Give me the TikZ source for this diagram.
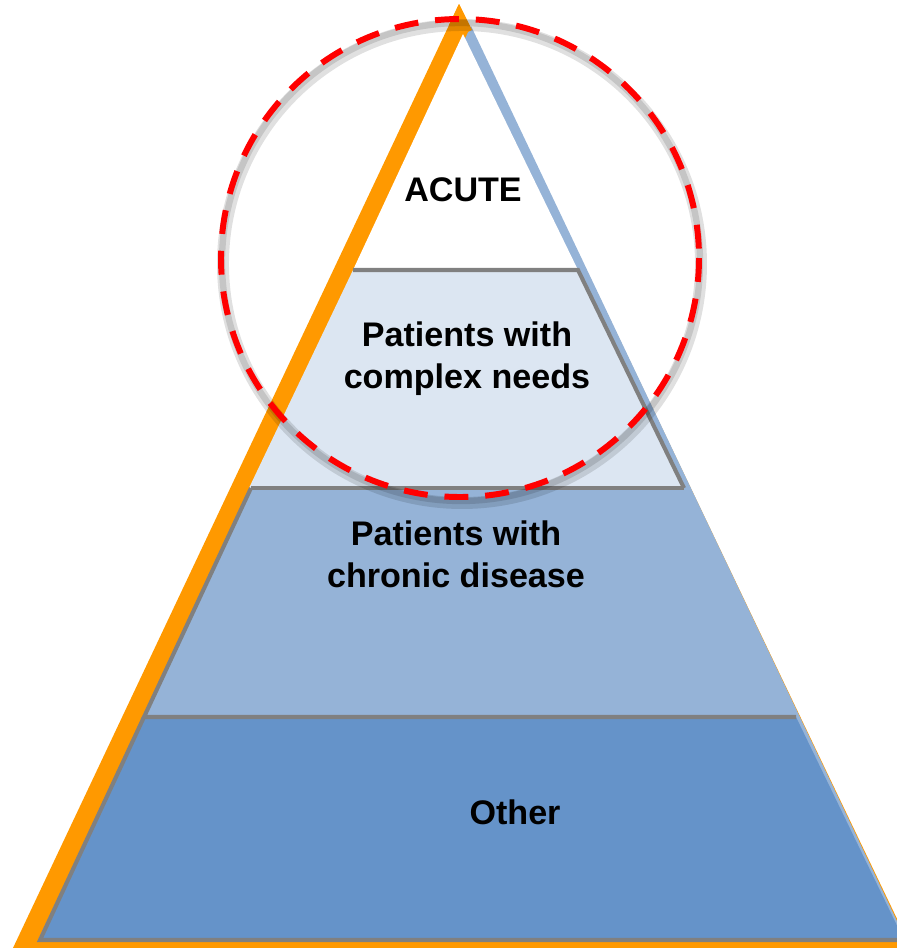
\documentclass[tikz,border=0pt]{standalone}
\usepackage{fontspec}
\setmainfont{Liberation Sans}
\usepackage{tikz}
\definecolor{pyrorange}{HTML}{FF9900}
\definecolor{pyrrim}{HTML}{95B3D7}
\definecolor{pyrlight}{HTML}{DCE6F2}
\definecolor{pyrmid}{HTML}{95B3D7}
\definecolor{pyrdark}{HTML}{6593C9}
\definecolor{pyrgray}{HTML}{808080}
\definecolor{pyrred}{HTML}{FF0000}

\begin{document}
\begin{tikzpicture}[
    x=0.01cm, y=-0.01cm,
    edgeline/.style={draw=pyrgray, line width=1.15pt},
    tier/.style={font=\fontsize{9.7}{12}\selectfont\bfseries, align=center, text=black, inner sep=0pt},
    ring/.style={draw=pyrred, line width=1.7pt, dash pattern=on 6.8pt off 4.8pt},
    ringshadow/.style={draw=black, line width=#1, opacity=0.12}
]
    \useasboundingbox (0,0) rectangle (897,948);
    \clip (0,0) rectangle (897,948);

    % Outer frame: orange back triangle and blue rim
    \fill[pyrorange] (459,4) -- (13,948) -- (911,948) -- cycle;
    \fill[pyrrim] (471,26) -- (38,940) -- (906,940) -- cycle;
    \fill[pyrorange] (459,4) -- (472,30) -- (463,34) -- (449,25) -- cycle;

    % Tiers, top to bottom
    \fill[white] (463,34) -- (578,270) -- (353,270) -- cycle;
    \fill[pyrlight] (353,270) -- (578,270) -- (684,488) -- (249,488) -- cycle;
    \fill[pyrmid] (251,488) -- (684,488) -- (796,717) -- (144,717) -- cycle;
    \fill[pyrdark] (144,717) -- (796,717) -- (904,940) -- (40,940) -- cycle;

    % Grey tier edges
    \draw[edgeline] (353,270) -- (578,270) -- (684,488);
    \draw[edgeline] (251,488) -- (684,488);
    \draw[edgeline] (251,488) -- (144,717) -- (796,717);
    \draw[edgeline] (144,717) -- (40,940) -- (904,940);

    % Labels
    \node (acute) [tier] at (463,190) {ACUTE};
    \node (complex) [tier] at (467,359) {Patients with\\complex needs};
    \node (chronic) [tier] at (456,554) {Patients with\\chronic disease};
    \node (other) [tier] at (515,812) {Other};

    % Dashed ring with its soft shadow
    \draw[ringshadow=3.4pt] (462,264) circle [radius=239];
    \draw[ringshadow=1.8pt] (461,262) circle [radius=239];
    \draw[ring] (460,258) circle [radius=239];
\end{tikzpicture}
\end{document}
